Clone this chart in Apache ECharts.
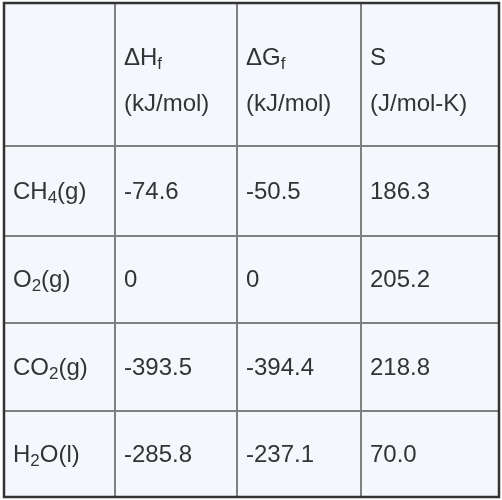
<!DOCTYPE html>
<html>
<head>
<meta charset="utf-8">
<script src="https://cdn.jsdelivr.net/npm/echarts@6/dist/echarts.min.js"></script>
<style>html,body{margin:0;padding:0;background:#fff}#main{width:502px;height:500px}</style>
</head>
<body>
<div id="main"></div>
<script>
// table contents
var headTop = ['', 'ΔH{sub|f}', 'ΔG{sub|f}', 'S'];
var headUnit = ['', '(kJ/mol)', '(kJ/mol)', '(J/mol-K)'];
var species = ['CH{sub|4}(g)', 'O{sub|2}(g)', 'CO{sub|2}(g)', 'H{sub|2}O(l)'];
var dH = ['-74.6', '0', '-393.5', '-285.8'];
var dG = ['-50.5', '0', '-394.4', '-237.1'];
var S = ['186.3', '205.2', '218.8', '70.0'];

var colX = [4, 115, 237, 361, 499];
var rowY = [3, 146, 236, 323, 411, 497];

var myChart = echarts.init(document.getElementById('main'));
var font = 'Liberation Sans, Helvetica, Arial, sans-serif';
var rich = {
    sub: { fontSize: 17, fontFamily: font, color: '#333', verticalAlign: 'bottom', padding: [12, 0, 0, 0] }
};
var els = [];
els.push({
    type: 'rect', z: 0,
    shape: { x: colX[0], y: rowY[0], width: colX[4] - colX[0], height: rowY[5] - rowY[0] },
    style: { fill: '#f4f8fd', stroke: null }
});
// inner lines
for (var i = 1; i < colX.length - 1; i++) {
    els.push({ type: 'line', z: 1, shape: { x1: colX[i], y1: rowY[0], x2: colX[i], y2: rowY[5] }, style: { stroke: '#808080', lineWidth: 2 } });
}
for (var j = 1; j < rowY.length - 1; j++) {
    els.push({ type: 'line', z: 1, shape: { x1: colX[0], y1: rowY[j], x2: colX[4], y2: rowY[j] }, style: { stroke: '#808080', lineWidth: 2 } });
}
els.push({
    type: 'rect', z: 2,
    shape: { x: colX[0], y: rowY[0], width: colX[4] - colX[0], height: rowY[5] - rowY[0] },
    style: { fill: null, stroke: '#333', lineWidth: 2.5 }
});
function cell(c, y, text) {
    els.push({
        type: 'text', z: 3, x: colX[c] + 9, y: y,
        style: { text: text, fontSize: 24, fontFamily: font, fill: '#333', verticalAlign: 'middle', rich: rich }
    });
}
for (var c = 1; c < 4; c++) {
    cell(c, 58, headTop[c]);
    cell(c, 104, headUnit[c]);
}
var cols = [species, dH, dG, S];
for (var r = 0; r < species.length; r++) {
    var yc = (rowY[r + 1] + rowY[r + 2]) / 2 + 1;
    for (var k = 0; k < 4; k++) {
        cell(k, yc, cols[k][r]);
    }
}
myChart.setOption({ animation: false, graphic: els });
</script>
</body>
</html>
